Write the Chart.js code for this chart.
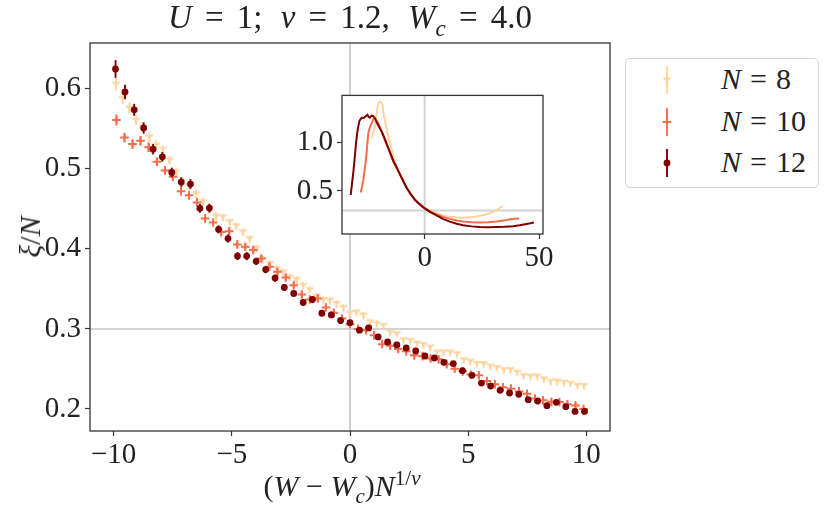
<!DOCTYPE html>
<html><head><meta charset="utf-8">
<script src="https://cdn.jsdelivr.net/npm/chart.js@4.4.1/dist/chart.umd.min.js"></script>
<style>
body{margin:0;background:#fff;}
#wrap{position:relative;width:830px;height:517px;overflow:hidden;font-family:"Liberation Serif","Times New Roman",serif;color:#222;}
canvas{display:block;}
#main{position:absolute;left:0;top:0;}
#inset{position:absolute;left:290px;top:74px;}
.t{position:absolute;white-space:nowrap;}
.t sub,.t sup{font-size:0.7em;line-height:0;}
.eq{padding:0 0.4em;}
.op{padding:0 0.25em;}
.gap{display:inline-block;width:0.55em;}
#legend{position:absolute;left:625px;top:58px;width:192px;height:128px;border:1px solid #d2d2d2;border-radius:5px;background:#fff;}
.row{position:absolute;left:0;width:192px;height:36px;}
.row canvas{position:absolute;left:31px;top:0;}
.row .lab{position:absolute;left:95px;top:1px;font-size:30px;line-height:32px;white-space:nowrap;}
.row .lab .eq{padding:0 0.3em;}
</style></head>
<body><div id="wrap">
<canvas id="main" width="830" height="517" style="width:830px;height:517px"></canvas>
<canvas id="inset" width="270" height="200" style="width:270px;height:200px"></canvas>
<div class="t" style="left:90px;width:520px;top:0px;text-align:center;font-size:33px;line-height:34px;"><i>U</i><span class="eq">=</span>1;<span class="gap"></span><i>ν</i><span class="eq">=</span>1.2,<span class="gap"></span><i>W</i><sub><i>c</i></sub><span class="eq">=</span>4.0</div>
<div class="t" style="left:82px;width:520px;top:471px;text-align:center;font-size:30px;line-height:30px;">(<i>W</i><span class="op">−</span><i>W</i><sub><i>c</i></sub>)<i>N</i><sup>1/<i>ν</i></sup></div>
<div class="t" style="left:30px;top:237px;font-size:30px;line-height:30px;transform:translate(-50%,-50%) rotate(-90deg);"><i>ξ</i>/<i>N</i></div>
<div id="legend">
 <div class="row" style="top:3px"><canvas id="ico8" width="20" height="36"></canvas><div class="lab"><i>N</i><span class="eq">=</span>8</div></div>
 <div class="row" style="top:45px"><canvas id="ico10" width="20" height="36"></canvas><div class="lab"><i>N</i><span class="eq">=</span>10</div></div>
 <div class="row" style="top:86px"><canvas id="ico12" width="20" height="36"></canvas><div class="lab"><i>N</i><span class="eq">=</span>12</div></div>
</div>
</div>
<script>
// ---- main plot data ----
const x8 = [-9.90,-9.62,-9.33,-9.05,-8.77,-8.49,-8.20,-7.92,-7.64,-7.35,-7.07,-6.79,-6.51,-6.22,-5.94,-5.66,-5.37,-5.09,-4.81,-4.53,-4.24,-3.96,-3.68,-3.39,-3.11,-2.83,-2.55,-2.26,-1.98,-1.70,-1.41,-1.13,-0.85,-0.57,-0.28,0,0.28,0.57,0.85,1.13,1.41,1.70,1.98,2.26,2.55,2.83,3.11,3.39,3.68,3.96,4.24,4.53,4.81,5.09,5.37,5.66,5.94,6.22,6.51,6.79,7.07,7.35,7.64,7.92,8.20,8.49,8.77,9.05,9.33,9.62,9.90];
const y8 = [0.606,0.588,0.576,0.561,0.552,0.540,0.530,0.5245,0.511,0.4965,0.484,0.4786,0.469,0.459,0.450,0.441,0.440,0.434,0.429,0.4214,0.413,0.401,0.387,0.382,0.3756,0.3713,0.3651,0.3618,0.3547,0.3493,0.3409,0.3368,0.336,0.3318,0.3268,0.320,0.3213,0.3172,0.3088,0.3068,0.3046,0.2962,0.2942,0.2867,0.2858,0.2825,0.2808,0.2775,0.2713,0.2713,0.2713,0.2692,0.2617,0.260,0.257,0.2567,0.2537,0.2517,0.2492,0.2492,0.2462,0.242,0.2412,0.2412,0.2379,0.2349,0.2349,0.2337,0.2324,0.2295,0.2295];
const e8 = [0.008,0.007,0.007,0.006,0.006,0.006,0.006,0.005,0.005,0.005,0.005,0.005,0.005,0.005,0.005,0.005,0.004,0.004,0.004,0.004,0.004,0.004,0.004,0.004,0.004,0.004,0.004,0.004,0.004,0.004,0.004,0.004,0.004,0.004,0.004,0.004,0.004,0.004,0.004,0.004,0.003,0.003,0.003,0.003,0.003,0.003,0.003,0.003,0.003,0.003,0.003,0.003,0.003,0.003,0.003,0.003,0.003,0.003,0.003,0.003,0.003,0.003,0.003,0.003,0.003,0.003,0.003,0.003,0.003,0.003,0.003];

const x10 = [-9.88,-9.54,-9.20,-8.86,-8.52,-8.17,-7.83,-7.49,-7.15,-6.81,-6.47,-6.13,-5.79,-5.45,-5.11,-4.77,-4.43,-4.09,-3.75,-3.41,-3.07,-2.72,-2.38,-2.04,-1.70,-1.36,-1.02,-0.68,-0.34,0,0.34,0.68,1.02,1.36,1.70,2.04,2.38,2.72,3.07,3.41,3.75,4.09,4.43,4.77,5.11,5.45,5.79,6.13,6.47,6.81,7.15,7.49,7.83,8.17,8.52,8.86,9.20,9.54,9.88];
const y10 = [0.561,0.539,0.531,0.535,0.527,0.509,0.498,0.490,0.472,0.467,0.458,0.438,0.433,0.421,0.422,0.4056,0.4026,0.3985,0.388,0.3776,0.3713,0.3643,0.3547,0.3431,0.3368,0.338,0.3268,0.3201,0.313,0.306,0.300,0.2984,0.292,0.281,0.279,0.275,0.272,0.267,0.266,0.263,0.262,0.256,0.2504,0.247,0.243,0.242,0.235,0.231,0.227,0.2254,0.222,0.219,0.213,0.2108,0.209,0.2087,0.206,0.2045,0.200];
const e10 = [0.007,0.006,0.006,0.006,0.006,0.005,0.005,0.005,0.005,0.005,0.005,0.005,0.004,0.004,0.004,0.004,0.004,0.004,0.004,0.004,0.004,0.004,0.004,0.004,0.004,0.004,0.003,0.003,0.003,0.003,0.003,0.003,0.003,0.003,0.003,0.003,0.003,0.003,0.003,0.003,0.003,0.003,0.003,0.003,0.003,0.003,0.003,0.003,0.003,0.003,0.003,0.003,0.003,0.003,0.003,0.003,0.003,0.003,0.003];

const x12 = [-9.92,-9.52,-9.13,-8.73,-8.33,-7.94,-7.54,-7.14,-6.75,-6.35,-5.95,-5.56,-5.16,-4.76,-4.37,-3.97,-3.57,-3.17,-2.78,-2.38,-1.98,-1.59,-1.19,-0.79,-0.40,0,0.40,0.79,1.19,1.59,1.98,2.38,2.78,3.17,3.57,3.97,4.37,4.76,5.16,5.56,5.95,6.35,6.75,7.14,7.54,7.94,8.33,8.73,9.13,9.52,9.92];
const y12 = [0.6247,0.596,0.5737,0.551,0.5245,0.515,0.4955,0.4835,0.481,0.4507,0.451,0.4244,0.4129,0.391,0.391,0.3845,0.3741,0.3635,0.3518,0.3443,0.333,0.3368,0.3197,0.3175,0.3105,0.3078,0.2984,0.3013,0.290,0.2838,0.280,0.2762,0.2725,0.2662,0.2637,0.2583,0.2567,0.2479,0.242,0.2324,0.2287,0.2233,0.220,0.2183,0.2116,0.2099,0.2041,0.2083,0.2029,0.197,0.197];
const e12 = [0.011,0.009,0.0075,0.007,0.0065,0.006,0.006,0.006,0.006,0.0055,0.0055,0.005,0.005,0.005,0.005,0.0045,0.0045,0.0045,0.004,0.004,0.004,0.004,0.004,0.004,0.004,0.0035,0.0035,0.0035,0.0035,0.0035,0.003,0.003,0.003,0.003,0.003,0.003,0.003,0.003,0.003,0.003,0.003,0.003,0.003,0.003,0.003,0.003,0.003,0.003,0.003,0.003,0.003];

const xTicks = [-10,-5,0,5,10];
const yTicks = [0.2,0.3,0.4,0.5,0.6];

// ---- inset data ----
const ix8 = [-23.1,-22.4,-21.7,-21.1,-20.5,-20.0,-19.5,-19.0,-18.5,-18.0,-17.3,-16.6,-15.9,-15.1,-14.0,-13.0,-11.8,-10.8,-9.3,-7.85,-6.0,-4.2,-2.0,0,2.5,4.5,6.7,10.0,13.9,17.5,21.2,24.8,28.5,31.5,34.0];
const iy8 = [1.04,1.10,1.17,1.27,1.36,1.40,1.415,1.41,1.39,1.297,1.22,1.14,1.06,0.984,0.88,0.797,0.72,0.675,0.60,0.535,0.47,0.415,0.368,0.33,0.30,0.278,0.26,0.24,0.228,0.227,0.234,0.25,0.272,0.305,0.344];
const ix10 = [-27.9,-27.3,-26.8,-26.2,-25.6,-25.1,-24.6,-24.1,-23.6,-23.0,-22.4,-21.7,-21.0,-20.2,-18.8,-17.3,-15.5,-13.7,-12.2,-10.8,-9.3,-7.85,-6.0,-4.2,-2.0,0,2.5,5.2,8.0,11.0,14.0,16.8,20.5,24.1,27.8,31.4,34.5,37.2,39.5,41.3];
const iy10 = [0.484,0.55,0.61,0.72,0.828,0.96,1.094,1.14,1.17,1.20,1.234,1.24,1.22,1.19,1.11,1.016,0.91,0.80,0.735,0.67,0.60,0.53,0.466,0.41,0.363,0.325,0.29,0.26,0.235,0.215,0.198,0.187,0.18,0.178,0.18,0.187,0.197,0.21,0.215,0.219];
const ix12 = [-32.3,-31.7,-31.1,-30.5,-30.0,-29.3,-28.5,-27.5,-26.5,-26.0,-25.0,-24.5,-23.9,-23.2,-22.4,-21.6,-20.9,-19.8,-18.8,-17.7,-16.6,-15.2,-13.7,-12.2,-10.8,-9.3,-7.85,-6.0,-4.2,-2.0,0,2.5,5.2,8.0,11.0,14.0,16.8,20.5,24.1,27.8,31.4,35.0,38.6,41.5,44.5,46.2,47.7];
const iy12 = [0.459,0.58,0.703,0.85,0.984,1.12,1.218,1.25,1.25,1.26,1.28,1.26,1.25,1.27,1.265,1.24,1.20,1.15,1.11,1.05,0.984,0.90,0.81,0.74,0.67,0.60,0.53,0.465,0.407,0.36,0.322,0.283,0.25,0.215,0.187,0.165,0.15,0.138,0.131,0.128,0.131,0.134,0.14,0.15,0.163,0.17,0.178];
const ixTicks = [0,50];
const iyTicks = [0.5,1.0];

// ---- styling ----
const C8 = '#fdd49e', C10 = '#f46d4c', C12 = '#7f0000';
const FONT = '"Liberation Serif","Times New Roman",serif';
const TXT = '#222', AX = '#333', REF = '#d3d3d3';

function triCanvas(color, r){
  const s = Math.ceil(2*r+4), c = document.createElement('canvas');
  c.width = s; c.height = s;
  const g = c.getContext('2d'), cx = s/2, cy = s/2;
  g.strokeStyle = color; g.lineWidth = 1.9;
  g.beginPath();
  g.moveTo(cx,cy); g.lineTo(cx,cy+r);
  g.moveTo(cx,cy); g.lineTo(cx-0.866*r,cy-0.5*r);
  g.moveTo(cx,cy); g.lineTo(cx+0.866*r,cy-0.5*r);
  g.stroke();
  return c;
}
const tri8 = triCanvas(C8, 4.2);
const pts = (xs, ys) => xs.map((x,i)=>({x:x, y:ys[i]}));
const fmtX = v => v < 0 ? '\u2212' + Math.abs(v) : String(v);

const refLines = {
  id:'ref',
  beforeDatasetsDraw(chart, args, o){
    const {ctx, chartArea:a, scales:{x, y}} = chart;
    ctx.save(); ctx.strokeStyle = REF; ctx.lineWidth = o.w || 2;
    const px = x.getPixelForValue(o.x), py = y.getPixelForValue(o.y);
    ctx.beginPath();
    ctx.moveTo(px, a.top); ctx.lineTo(px, a.bottom);
    ctx.moveTo(a.left, py); ctx.lineTo(a.right, py);
    ctx.stroke(); ctx.restore();
  }
};
const frame = {
  id:'frame',
  beforeDraw(chart, args, o){
    if(!o.bg) return;
    const a = chart.chartArea, ctx = chart.ctx;
    ctx.save(); ctx.fillStyle = '#fff'; ctx.fillRect(a.left, a.top, a.width, a.height); ctx.restore();
  },
  afterDraw(chart){
    const a = chart.chartArea, ctx = chart.ctx;
    ctx.save(); ctx.strokeStyle = AX; ctx.lineWidth = 1.3;
    ctx.strokeRect(a.left, a.top, a.width, a.height); ctx.restore();
  }
};
const errBars = {
  id:'err',
  beforeDatasetDraw(chart, args){
    const ds = chart.data.datasets[args.index];
    if(!ds.err) return;
    const {ctx, scales:{x, y}} = chart;
    ctx.save(); ctx.strokeStyle = ds.barColor; ctx.lineWidth = 1.9;
    ds.data.forEach((p,i)=>{
      const px = x.getPixelForValue(p.x);
      ctx.beginPath();
      ctx.moveTo(px, y.getPixelForValue(p.y - ds.err[i]));
      ctx.lineTo(px, y.getPixelForValue(p.y + ds.err[i]));
      ctx.stroke();
    });
    ctx.restore();
  }
};

function axis(min, max, ticks, fmt, size, pos, pad){
  return {
    type:'linear', position:pos, min:min, max:max,
    afterBuildTicks: s => { s.ticks = ticks.map(v=>({value:v})); },
    ticks:{font:{family:FONT, size:29}, color:TXT, padding:pad, maxRotation:0, autoSkip:false, callback: fmt},
    grid:{drawOnChartArea:false, drawTicks:true, tickLength:5, tickWidth:1.2, tickColor:AX},
    border:{display:false},
    afterFit: s => { if(pos==='bottom') s.height = size; else s.width = size; }
  };
}

new Chart(document.getElementById('main'), {
  type:'scatter',
  data:{datasets:[
    {label:'N = 8', data:pts(x8,y8), err:e8, barColor:C8, order:2, pointStyle:tri8, pointRadius:4, borderColor:C8, backgroundColor:C8},
    {label:'N = 10', data:pts(x10,y10), err:e10, barColor:C10, order:1, pointStyle:'cross', pointRadius:4.3, pointBorderWidth:2, borderColor:C10, backgroundColor:C10},
    {label:'N = 12', data:pts(x12,y12), err:e12, barColor:C12, order:0, pointStyle:'circle', pointRadius:3.4, pointBorderWidth:0, borderColor:C12, backgroundColor:C12}
  ]},
  options:{
    responsive:false, animation:false, devicePixelRatio:1,
    layout:{padding:{left:0, right:220, top:43, bottom:0}},
    plugins:{legend:{display:false}, tooltip:{enabled:false}, ref:{x:0, y:0.3, w:2}, frame:{bg:false}},
    scales:{
      x: axis(-11, 11, xTicks, fmtX, 86, 'bottom', 2),
      y: axis(0.1725, 0.6572, yTicks, v => v.toFixed(1), 90, 'left', 4)
    }
  },
  plugins:[refLines, errBars, frame]
});

new Chart(document.getElementById('inset'), {
  type:'scatter',
  data:{datasets:[
    {data:pts(ix8,iy8), showLine:true, pointRadius:0, borderColor:C8, borderWidth:2, order:2},
    {data:pts(ix10,iy10), showLine:true, pointRadius:0, borderColor:C10, borderWidth:2, order:1},
    {data:pts(ix12,iy12), showLine:true, pointRadius:0, borderColor:C12, borderWidth:2, order:0}
  ]},
  options:{
    responsive:false, animation:false, devicePixelRatio:1,
    layout:{padding:{left:0, right:17, top:10, bottom:0}},
    plugins:{legend:{display:false}, tooltip:{enabled:false}, ref:{x:0, y:0.3, w:2}, frame:{bg:true}},
    scales:{
      x: axis(-36.1, 51.7, ixTicks, fmtX, 40, 'bottom', 2),
      y: axis(0.06, 1.478, iyTicks, v => v.toFixed(1), 52, 'left', 4)
    }
  },
  plugins:[frame, refLines]
});

// ---- legend icons ----
function icon(id, color, kind){
  const c = document.getElementById(id), g = c.getContext('2d');
  const cx = 10, cy = 18;
  g.strokeStyle = color; g.fillStyle = color; g.lineWidth = 1.9;
  g.beginPath(); g.moveTo(cx, cy-14); g.lineTo(cx, cy+14); g.stroke();
  if(kind === 'tri') g.drawImage(tri8, cx - tri8.width/2, cy - tri8.height/2);
  else if(kind === 'cross'){ g.lineWidth = 2; g.beginPath(); g.moveTo(cx-4.3,cy); g.lineTo(cx+4.3,cy); g.moveTo(cx,cy-4.3); g.lineTo(cx,cy+4.3); g.stroke(); }
  else { g.beginPath(); g.arc(cx, cy, 3.4, 0, Math.PI*2); g.fill(); }
}
icon('ico8', C8, 'tri'); icon('ico10', C10, 'cross'); icon('ico12', C12, 'dot');
</script>
</body></html>
